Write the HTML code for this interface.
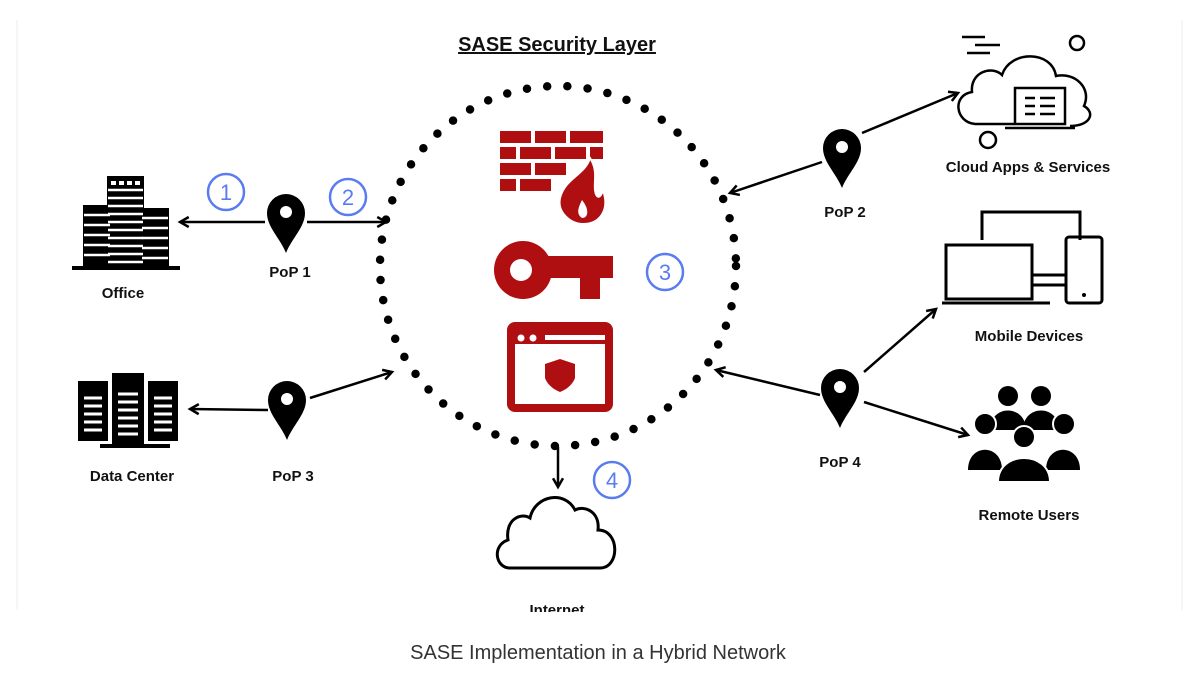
<!DOCTYPE html>
<html><head><meta charset="utf-8"><style>
html,body{margin:0;padding:0;background:#fff;width:1200px;height:686px;overflow:hidden}
svg{display:block}
text{font-family:"Liberation Sans",sans-serif}
</style></head><body>
<svg width="1200" height="686" viewBox="0 0 1200 686">
<defs>
<marker id="ah" viewBox="0 0 10 10" refX="8" refY="5" markerWidth="5" markerHeight="5" orient="auto-start-reverse">
<path d="M1,1 L8,5 L1,9" fill="none" stroke="#000" stroke-width="2"/>
</marker>
<g id="pin"><path d="M0,40 C-6,25 -19,14 -19,0 A19,19 0 0 1 19,0 C19,14 6,25 0,40Z" fill="#000"/><circle cx="0" cy="-1" r="6" fill="#fff"/></g>
</defs>
<line x1="17" y1="20" x2="17" y2="610" stroke="#eee"/>
<line x1="1182" y1="20" x2="1182" y2="610" stroke="#eee"/>
<text x="557" y="51" font-size="20" font-weight="bold" text-anchor="middle" text-decoration="underline" fill="#111">SASE Security Layer</text>
<ellipse cx="558" cy="266" rx="178" ry="180" fill="none" stroke="#000" stroke-width="8.5" stroke-linecap="round" stroke-dasharray="0 20.3"/>
<!-- firewall -->
<g fill="#b00f12">
<rect x="500" y="131" width="31" height="12"/><rect x="535" y="131" width="31" height="12"/><rect x="570" y="131" width="33" height="12"/>
<rect x="500" y="147" width="16" height="12"/><rect x="520" y="147" width="31" height="12"/><rect x="555" y="147" width="31" height="12"/><rect x="590" y="147" width="13" height="12"/>
<rect x="500" y="163" width="31" height="12"/><rect x="535" y="163" width="31" height="12"/>
<rect x="500" y="179" width="16" height="12"/><rect x="520" y="179" width="31" height="12"/>
<path d="M590,158 C585,175 565,178 560,198 C557,212 570,224 583,224 C600,224 610,210 603,190 C600,200 596,198 595,190 C594,180 598,170 590,158Z" stroke="#fff" stroke-width="2"/>
<path d="M582,200 C578,208 576,214 582,218 C588,218 590,210 582,200Z" fill="#fff"/>
<!-- key -->
<circle cx="523" cy="270" r="29"/>
<rect x="535" y="256" width="78" height="22"/>
<rect x="580" y="270" width="20" height="29"/>
</g>
<circle cx="521" cy="270" r="11" fill="#fff"/>
<!-- browser -->
<rect x="511" y="326" width="98" height="82" rx="4" fill="none" stroke="#b00f12" stroke-width="8"/>
<rect x="511" y="326" width="98" height="18" fill="#b00f12"/>
<circle cx="521" cy="338" r="3.5" fill="#fff"/><circle cx="533" cy="338" r="3.5" fill="#fff"/><rect x="545" y="335" width="60" height="5" fill="#fff"/>
<path d="M545,364 L560,359 L575,364 L575,378 C572,386 565,390 560,392 C555,390 548,386 545,378Z" fill="#b00f12"/>
<!-- arrows -->
<g stroke="#000" stroke-width="2.5" fill="none" marker-end="url(#ah)">
<line x1="265" y1="222" x2="180" y2="222"/>
<line x1="307" y1="222" x2="386" y2="222"/>
<line x1="268" y1="410" x2="190" y2="409"/>
<line x1="310" y1="398" x2="392" y2="372"/>
<line x1="822" y1="162" x2="730" y2="193"/>
<line x1="862" y1="133" x2="958" y2="93"/>
<line x1="820" y1="395" x2="716" y2="370"/>
<line x1="864" y1="372" x2="936" y2="309"/>
<line x1="864" y1="402" x2="968" y2="435"/>
<line x1="558" y1="447" x2="558" y2="487"/>
</g>
<use href="#pin" x="286" y="213"/>
<use href="#pin" x="287" y="400"/>
<use href="#pin" x="842" y="148"/>
<use href="#pin" x="840" y="388"/>
<!-- numbers -->
<g fill="none" stroke="#5b7cf0" stroke-width="2.5"><circle cx="226" cy="192" r="18"/><circle cx="348" cy="197" r="18"/><circle cx="665" cy="272" r="18"/><circle cx="612" cy="480" r="18"/></g>
<g fill="#5b7cf0" font-size="22" text-anchor="middle"><text x="226" y="200">1</text><text x="348" y="205">2</text><text x="665" y="280">3</text><text x="612" y="488">4</text></g>
<!-- office -->
<g fill="#000">
<rect x="107" y="176" width="37" height="90"/><rect x="83" y="205" width="28" height="61"/><rect x="141" y="208" width="28" height="58"/>
<rect x="72" y="266" width="108" height="4"/>
</g>
<g fill="#fff">
<rect x="111" y="181" width="5" height="4"/><rect x="119" y="181" width="5" height="4"/><rect x="127" y="181" width="5" height="4"/><rect x="135" y="181" width="5" height="4"/>
</g>
<g stroke="#fff" stroke-width="2.5"><path d="M108,190H143M108,198H143M108,206H143M108,214H143M108,222H143M108,230H143M108,238H143M108,246H143M108,254H143M108,262H143"/><path d="M84,215H110M84,225H110M84,235H110M84,245H110M84,255H110M142,218H168M142,228H168M142,238H168M142,248H168M142,258H168"/></g>
<!-- data center -->
<g fill="#000"><rect x="78" y="381" width="30" height="60"/><rect x="112" y="373" width="32" height="72"/><rect x="148" y="381" width="30" height="60"/><rect x="100" y="444" width="70" height="4"/></g>
<g stroke="#fff" stroke-width="3"><path d="M84,398H102M84,406H102M84,414H102M84,422H102M84,430H102M118,394H138M118,402H138M118,410H138M118,418H138M118,426H138M118,434H138M154,398H172M154,406H172M154,414H172M154,422H172M154,430H172"/></g>
<!-- cloud apps -->
<g fill="none" stroke="#000" stroke-width="2.5">
<path d="M1015,124 H975 C955,122 952,95 972,92 C970,72 992,65 1002,75 C1010,50 1052,50 1056,76 C1075,72 1092,88 1084,106 C1096,113 1090,126 1070,126"/>
<circle cx="1077" cy="43" r="7"/><circle cx="988" cy="140" r="8"/>
<path d="M962,37H985M975,45H1000M967,53H990"/>
<rect x="1015" y="88" width="50" height="36" fill="#fff"/><path d="M1005,128H1075"/>
<path d="M1025,98H1035M1040,98H1055M1025,106H1035M1040,106H1055M1025,114H1035M1040,114H1055"/>
</g>
<!-- mobile devices -->
<g fill="none" stroke="#000" stroke-width="3">
<path d="M982,240V212H1080V240"/><rect x="946" y="245" width="86" height="54"/><path d="M942,303H1050"/>
<rect x="1066" y="237" width="36" height="66" rx="3"/><path d="M1032,275H1066M1032,285H1066"/>
</g>
<circle cx="1084" cy="295" r="2" fill="#000"/>
<!-- remote users -->
<g fill="#000">
<circle cx="1008" cy="396" r="10"/><circle cx="1041" cy="396" r="10"/>
<path d="M990,430 C990,404 1026,404 1026,430Z"/><path d="M1023,430 C1023,404 1059,404 1059,430Z"/>
<circle cx="985" cy="424" r="11" stroke="#fff" stroke-width="2"/><circle cx="1064" cy="424" r="11" stroke="#fff" stroke-width="2"/>
<path d="M968,470 C968,443 1002,443 1002,470Z"/><path d="M1046,470 C1046,443 1080,443 1080,470Z"/>
<circle cx="1024" cy="437" r="11" stroke="#fff" stroke-width="2"/>
<path d="M998,482 C998,450 1050,450 1050,482Z" stroke="#fff" stroke-width="2"/>
</g>
<!-- internet cloud -->
<path d="M510,568 C495,568 492,545 508,540 C505,520 520,512 530,518 C535,495 565,490 575,510 C585,505 600,512 598,530 C620,530 620,568 600,568Z" fill="none" stroke="#000" stroke-width="3"/>
<g font-size="15" font-weight="bold" text-anchor="middle" fill="#111">
<text x="123" y="298">Office</text><text x="290" y="277">PoP 1</text>
<text x="132" y="481">Data Center</text><text x="293" y="481">PoP 3</text>
<text x="845" y="217">PoP 2</text><text x="1028" y="172">Cloud Apps &amp; Services</text>
<text x="1029" y="341">Mobile Devices</text><text x="840" y="467">PoP 4</text>
<text x="1029" y="520">Remote Users</text><text x="557" y="615">Internet</text>
</g>
<rect x="0" y="612" width="1200" height="74" fill="#fff"/>
<text x="598" y="659" font-size="20" text-anchor="middle" fill="#333">SASE Implementation in a Hybrid Network</text>
</svg>
</body></html>
